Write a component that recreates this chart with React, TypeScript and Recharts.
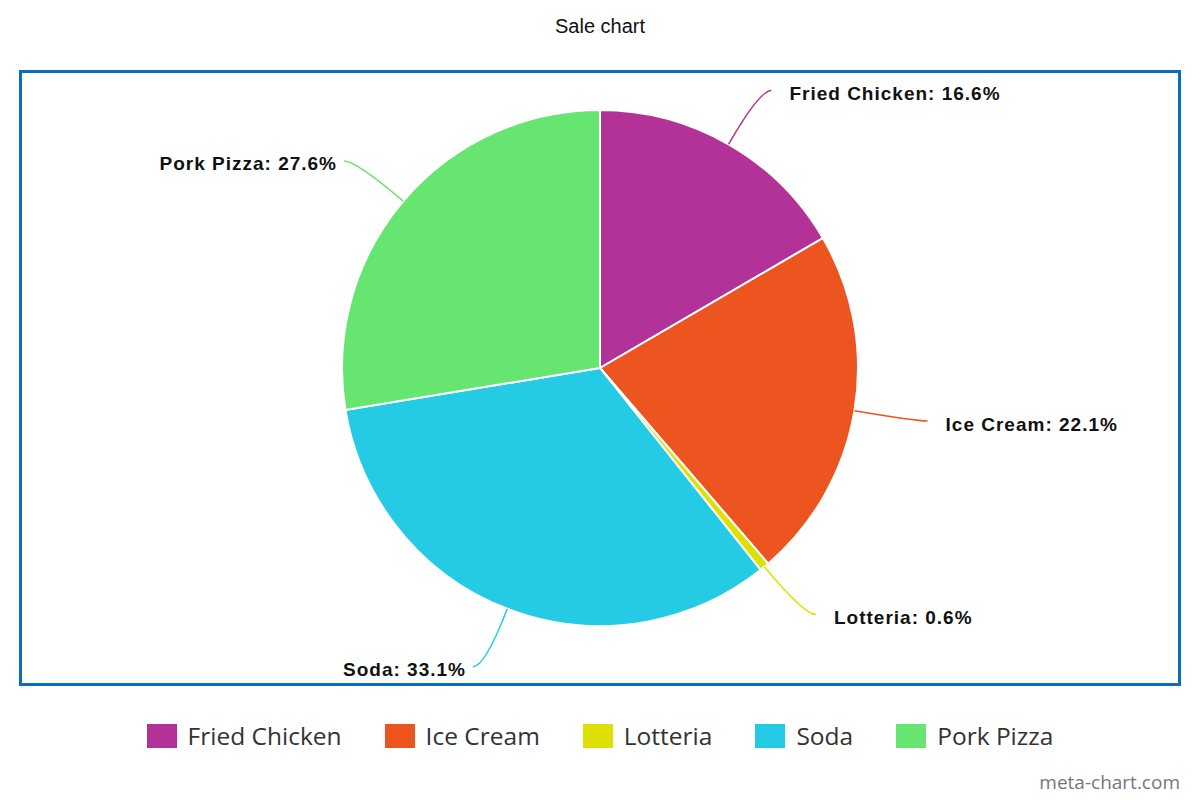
import { PieChart, Pie, Cell } from 'recharts';

const categories = ['Fried Chicken', 'Ice Cream', 'Lotteria', 'Soda', 'Pork Pizza'];
const shares = [16.6, 22.1, 0.6, 33.1, 27.6];
const colors = ['#b33297', '#ec5520', '#dde000', '#25cbe4', '#66e570'];

const data = categories.map((name, i) => ({ name, value: shares[i] }));

const RAD = Math.PI / 180;

const renderLabel = (props: any) => {
  const { cx, cy, outerRadius, midAngle, index, name, value } = props;
  const cos = Math.cos(-midAngle * RAD);
  const sin = Math.sin(-midAngle * RAD);
  const x0 = cx + outerRadius * cos;
  const y0 = cy + outerRadius * sin;
  const x1 = cx + (outerRadius + 62) * cos;
  const y1 = cy + (outerRadius + 62) * sin;
  const right = cos >= 0;
  const x2 = x1 + (right ? 12 : -12);
  const tx = x2 + (right ? 18 : -7);
  return (
    <g>
      <path
        d={`M${x0},${y0} Q${x1},${y1} ${x2},${y1}`}
        stroke={colors[index]}
        strokeWidth={1.5}
        fill="none"
      />
      <text
        x={tx}
        y={y1 + 4.5}
        textAnchor={right ? 'start' : 'end'}
        dominantBaseline="middle"
        fontFamily="'Liberation Sans', Arial, sans-serif"
        fontWeight="bold"
        fontSize={19}
        letterSpacing={1}
        fill="#111"
      >
        {`${name}: ${value.toFixed(1)}%`}
      </text>
    </g>
  );
};

export default function App() {
  return (
    <div style={{ position: 'absolute', left: 0, top: 0, width: 1200, height: 800, background: '#fff' }}>
      <div
        style={{
          position: 'absolute',
          top: 15,
          width: 1200,
          textAlign: 'center',
          fontFamily: "'Liberation Sans', Arial, sans-serif",
          fontSize: 20,
          color: '#111',
        }}
      >
        Sale chart
      </div>
      <div
        style={{
          position: 'absolute',
          left: 19,
          top: 70,
          width: 1156,
          height: 610,
          border: '3.5px solid #0a6ebd',
        }}
      />
      <div style={{ position: 'absolute', left: 0, top: 0 }}>
        <PieChart width={1200} height={700} margin={{ top: 0, right: 0, bottom: 0, left: 0 }}>
          <Pie
            data={data}
            dataKey="value"
            nameKey="name"
            cx={600}
            cy={368}
            outerRadius={258}
            startAngle={90}
            endAngle={-270}
            stroke="#fff"
            strokeWidth={2}
            label={renderLabel}
            labelLine={false}
            isAnimationActive={false}
          >
            {data.map((d, i) => (
              <Cell key={d.name} fill={colors[i]} />
            ))}
          </Pie>
        </PieChart>
      </div>
      <div
        style={{
          position: 'absolute',
          top: 719,
          left: 0,
          width: 1200,
          display: 'flex',
          justifyContent: 'center',
          gap: 43,
          fontFamily: "'Open Sans', sans-serif",
          fontSize: 24.5,
          color: '#333',
        }}
      >
        {categories.map((c, i) => (
          <div key={c} style={{ display: 'flex', alignItems: 'center' }}>
            <div style={{ width: 30, height: 24, background: colors[i], marginRight: 11 }} />
            <span>{c}</span>
          </div>
        ))}
      </div>
      <div
        style={{
          position: 'absolute',
          right: 20,
          top: 769,
          fontFamily: "'Open Sans', sans-serif",
          fontSize: 19,
          color: '#777',
        }}
      >
        meta-chart.com
      </div>
    </div>
  );
}
